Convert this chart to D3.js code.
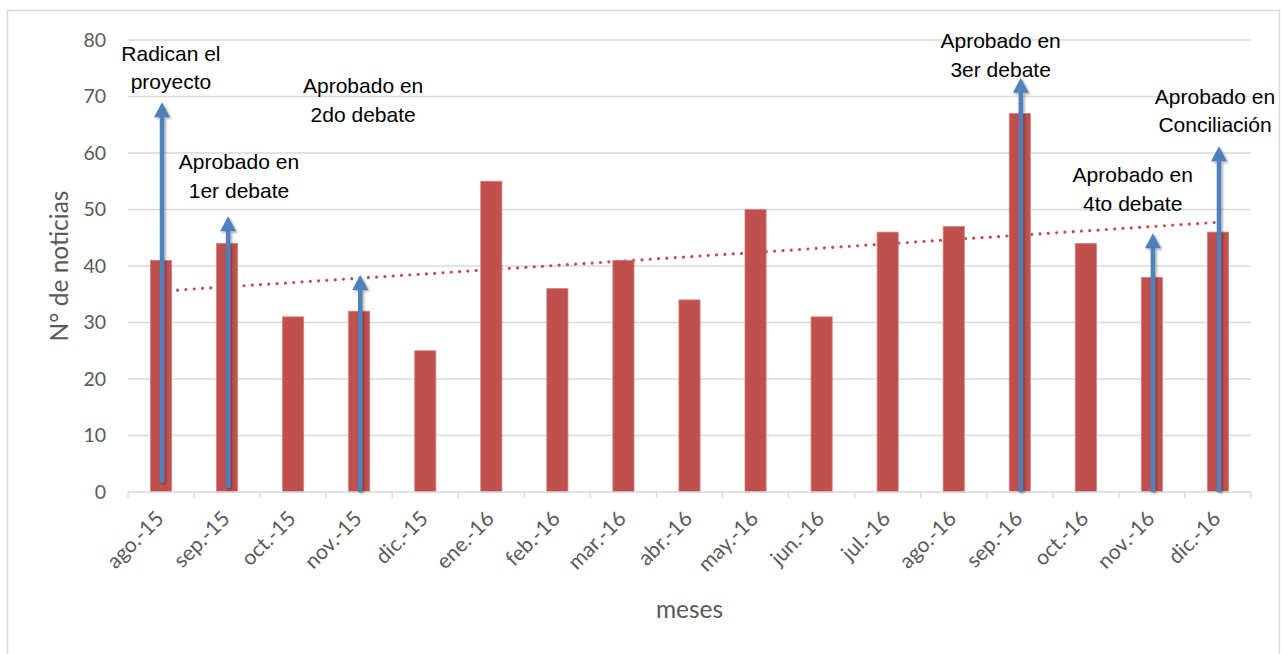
<!DOCTYPE html>
<html>
<head>
<meta charset="utf-8">
<script src="https://cdn.jsdelivr.net/npm/d3@7"></script>
<style>
  html, body { margin: 0; padding: 0; background: #ffffff; }
  svg { display: block; }
</style>
</head>
<body>
<svg id="chart" width="1286" height="654"></svg>
<script>
// Monthly news count during the bill's passage
const months = ["ago.-15","sep.-15","oct.-15","nov.-15","dic.-15","ene.-16","feb.-16","mar.-16","abr.-16","may.-16","jun.-16","jul.-16","ago.-16","sep.-16","oct.-16","nov.-16","dic.-16"];
const noticias = [41,44,31,32,25,55,36,41,34,50,31,46,47,67,44,38,46];
const yTicks = [0,10,20,30,40,50,60,70,80];

// Legislative milestones: month, label lines, arrow start and tip values
const eventMonths = ["ago.-15","sep.-15","nov.-15","sep.-16","nov.-16","dic.-16"];
const eventLabels = [
  ["Radican el","proyecto"],
  ["Aprobado en","1er debate"],
  ["Aprobado en","2do debate"],
  ["Aprobado en","3er debate"],
  ["Aprobado en","4to debate"],
  ["Aprobado en","Conciliación"]
];
const eventArrowBase = [1.7,0.7,0,0,0,0];
const eventArrowTip = [69,48.8,38.4,73.3,45.8,61.2];

// Label placement: shift in bands from the month centre, first baseline in axis units
const labelShift = [0.15,0.18,0.06,-0.29,-0.29,-0.045];
const labelBaseline = [76.3,57.1,70.6,78.5,54.8,68.7];

const svg = d3.select("#chart");
const margin = {left: 128, right: 1251, top: 40, bottom: 492};

const x = d3.scaleBand().domain(months).range([margin.left, margin.right])
  .paddingInner(0.68).paddingOuter(0.34);
const y = d3.scaleLinear().domain([0, 80]).range([margin.bottom, margin.top]);
const cx = m => x(m) + x.bandwidth() / 2;

// Outer chart frame
svg.append("rect")
  .attr("x", 7.5).attr("y", 10.5).attr("width", 1272).attr("height", 670)
  .attr("fill", "#fff").attr("stroke", "#D9D9D9").attr("stroke-width", 1.5);

const defs = svg.append("defs");
const shadow = defs.append("filter").attr("id", "arrowShadow")
  .attr("x", "-50%").attr("y", "-10%").attr("width", "200%").attr("height", "120%");
shadow.append("feDropShadow").attr("dx", 1.5).attr("dy", 1.5)
  .attr("stdDeviation", 1.3).attr("flood-color", "#000").attr("flood-opacity", 0.35);

// Horizontal gridlines
svg.append("g").selectAll("line").data(yTicks.filter(d => d > 0)).join("line")
  .attr("x1", margin.left).attr("x2", margin.right)
  .attr("y1", d => y(d)).attr("y2", d => y(d))
  .attr("stroke", "#D9D9D9").attr("stroke-width", 1.5);

// Y axis labels
const yAxis = d3.axisLeft(y).tickValues(yTicks).tickSize(0).tickPadding(0);
const gy = svg.append("g").attr("transform", `translate(${106},0)`).call(yAxis);
gy.select(".domain").remove();
gy.selectAll("text")
  .attr("font-family", "Lato, 'Open Sans', sans-serif")
  .attr("font-size", 19.5).attr("fill", "#595959");

// Linear trendline (least squares over month index)
const n = noticias.length;
const xs = d3.range(1, n + 1);
const mx = d3.mean(xs), my = d3.mean(noticias);
const slope = d3.sum(xs, (v, i) => (v - mx) * (noticias[i] - my)) / d3.sum(xs, v => (v - mx) ** 2);
const intercept = my - slope * mx;
const trend = [0, n - 1].map(i => ({m: months[i], v: intercept + slope * (i + 1)}));
svg.append("path")
  .datum(trend)
  .attr("d", d3.line().x(d => cx(d.m)).y(d => y(d.v)))
  .attr("fill", "none").attr("stroke", "#C0504D").attr("stroke-width", 3.2)
  .attr("stroke-linecap", "round").attr("stroke-dasharray", "0.01 8.3");

// Bars
svg.append("g").selectAll("rect").data(months).join("rect")
  .attr("x", d => x(d)).attr("width", x.bandwidth())
  .attr("y", (d, i) => y(noticias[i]))
  .attr("height", (d, i) => y(0) - y(noticias[i]))
  .attr("fill", "#C0504D")
  .attr("stroke", "#D4807E").attr("stroke-width", 0.8);

// X axis line and ticks at category boundaries
const step = x.step();
const bounds = months.map(m => cx(m) - step / 2).concat([cx(months[n - 1]) + step / 2]);
svg.append("line")
  .attr("x1", margin.left).attr("x2", margin.right)
  .attr("y1", y(0)).attr("y2", y(0))
  .attr("stroke", "#D9D9D9").attr("stroke-width", 1.5);
svg.append("g").selectAll("line").data(bounds).join("line")
  .attr("x1", d => d).attr("x2", d => d)
  .attr("y1", y(0)).attr("y2", y(0) + 6)
  .attr("stroke", "#D9D9D9").attr("stroke-width", 1.5);

// Rotated month labels
svg.append("g").selectAll("text").data(months).join("text")
  .attr("transform", d => `translate(${cx(d) + 4},${y(0) + 28}) rotate(-45)`)
  .attr("text-anchor", "end")
  .attr("font-family", "Lato, 'Open Sans', sans-serif")
  .attr("font-size", 21).attr("fill", "#595959")
  .text(d => d);

// Axis titles
svg.append("text")
  .attr("x", (margin.left + margin.right) / 2).attr("y", 618)
  .attr("text-anchor", "middle")
  .attr("font-family", "Lato, 'Open Sans', sans-serif")
  .attr("font-size", 24.5).attr("fill", "#595959")
  .text("meses");
svg.append("text")
  .attr("transform", `translate(68,${(margin.top + margin.bottom) / 2}) rotate(-90)`)
  .attr("text-anchor", "middle")
  .attr("font-family", "Lato, 'Open Sans', sans-serif")
  .attr("font-size", 24.5).attr("fill", "#595959")
  .text("N° de noticias");

// Milestone arrows
const arrows = svg.append("g").attr("filter", "url(#arrowShadow)");
eventMonths.forEach((m, i) => {
  const ax = cx(m) + 1;
  const tipY = y(eventArrowTip[i]);
  arrows.append("line")
    .attr("x1", ax).attr("x2", ax)
    .attr("y1", y(eventArrowBase[i])).attr("y2", tipY + 12)
    .attr("stroke", "#4F81BD").attr("stroke-width", 4.5);
  arrows.append("path")
    .attr("d", `M${ax},${tipY} L${ax + 8},${tipY + 15} L${ax - 8},${tipY + 15} Z`)
    .attr("fill", "#4F81BD");
});

// Milestone labels
eventMonths.forEach((m, i) => {
  const t = svg.append("text")
    .attr("x", cx(m) + labelShift[i] * step)
    .attr("y", y(labelBaseline[i]))
    .attr("text-anchor", "middle")
    .attr("font-family", "'Liberation Sans', Arial, sans-serif")
    .attr("font-size", 21).attr("fill", "#000");
  eventLabels[i].forEach((line, k) => {
    t.append("tspan")
      .attr("x", cx(m) + labelShift[i] * step)
      .attr("dy", k === 0 ? 0 : 28.4)
      .text(line);
  });
});
</script>
</body>
</html>
